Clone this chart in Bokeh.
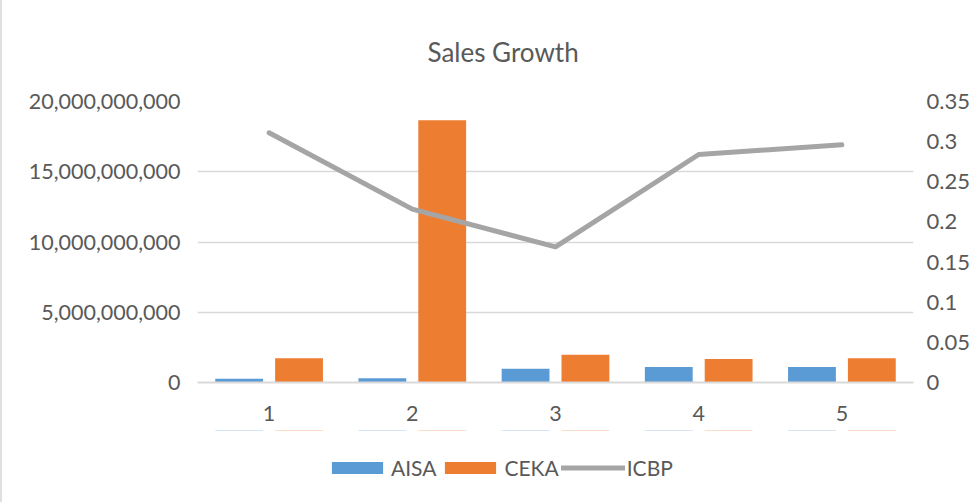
from bokeh.plotting import figure
from bokeh.layouts import column
from bokeh.models import (ColumnDataSource, FactorRange, Range1d, LinearAxis, FixedTicker,
                          NumeralTickFormatter, CustomJSTickFormatter, Legend, LegendItem)
from bokeh.transform import dodge
from bokeh.embed import file_html
from bokeh.resources import INLINE

periods = ["1", "2", "3", "4", "5"]
aisa = [0.27e9, 0.31e9, 0.97e9, 1.11e9, 1.11e9]
ceka = [1.73e9, 18.66e9, 1.97e9, 1.68e9, 1.73e9]
icbp = [0.311, 0.216, 0.169, 0.284, 0.296]
series_names = ["AISA", "CEKA", "ICBP"]
left_ticks = [0, 5e9, 10e9, 15e9, 20e9]
right_ticks = [0, 0.05, 0.1, 0.15, 0.2, 0.25, 0.3, 0.35]

FONT = "Lato"
TXT = "#595959"
BLUE = "#5B9BD5"
ORANGE = "#ED7D31"
GRAY = "#A5A5A5"
GRID = "#D9D9D9"
BORDER = {"border-left": "2px solid #E0E0E0"}

src = ColumnDataSource(dict(x=periods, aisa=aisa, ceka=ceka, icbp=icbp))
xr = FactorRange(factors=periods, range_padding=0)

p = figure(width=975, height=430, output_backend="svg", toolbar_location=None,
           x_range=xr, y_range=Range1d(0, 20e9),
           min_border_left=195, min_border_right=64, min_border_top=101, min_border_bottom=48)
p.extra_y_ranges = {"right": Range1d(0, 0.35)}
p.outline_line_color = None
p.background_fill_color = "white"
p.border_fill_color = "white"

p.title.text = "Sales Growth"
p.title.text_font = FONT
p.title.text_font_size = "26px"
p.title.text_font_style = "normal"
p.title.text_color = TXT
p.title.align = "left"
p.title.offset = 230
p.title.standoff = 67

bar_style_a = dict(width=0.334, fill_color=BLUE, line_color=None)
bar_style_c = dict(width=0.334, fill_color=ORANGE, line_color=None)
line_style = dict(line_color=GRAY, line_width=5, line_join="round", line_cap="round")

p.vbar(x=dodge("x", -0.209, range=xr), top="aisa", source=src, **bar_style_a)
p.vbar(x=dodge("x", 0.209, range=xr), top="ceka", source=src, **bar_style_c)
p.line(x="x", y="icbp", source=src, y_range_name="right", **line_style)

# left axis
ya = p.yaxis[0]
ya.ticker = FixedTicker(ticks=left_ticks)
ya.formatter = NumeralTickFormatter(format="0,0")
ya.axis_line_color = None
ya.major_tick_line_color = None
ya.minor_tick_line_color = None
ya.major_label_standoff = 11
ya.major_label_text_font = FONT
ya.major_label_text_font_size = "21.5px"
ya.major_label_text_color = TXT

# right axis
ra = LinearAxis(y_range_name="right", ticker=FixedTicker(ticks=right_ticks),
                formatter=CustomJSTickFormatter(code="return String(Math.round(tick*100)/100);"))
ra.axis_line_color = None
ra.major_tick_line_color = None
ra.minor_tick_line_color = None
ra.major_label_standoff = 7
ra.major_label_text_font = FONT
ra.major_label_text_font_size = "22px"
ra.major_label_text_color = TXT
p.add_layout(ra, "right")

# x axis
xa = p.xaxis[0]
xa.axis_line_color = GRID
xa.axis_line_width = 2
xa.major_tick_line_color = None
xa.minor_tick_line_color = None
xa.major_label_standoff = 17
xa.major_label_text_font = FONT
xa.major_label_text_font_size = "21.5px"
xa.major_label_text_color = TXT

p.xgrid.grid_line_color = None
p.ygrid.grid_line_color = GRID
p.ygrid.grid_line_width = 1.5
p.ygrid.ticker = FixedTicker(ticks=left_ticks)
p.styles = BORDER

# legend strip below the chart (own canvas, so the legend is not clipped by the main frame).
# Its series renderers draw nothing visible (zero-height bars, line outside the view).
lg = figure(width=975, height=72, output_backend="svg", toolbar_location=None,
            x_range=xr, y_range=Range1d(-4e11, -2e11),
            x_axis_type=None, y_axis_type=None, min_border=0)
lg.outline_line_color = None
lg.grid.visible = False
lg.extra_y_ranges = {"right": Range1d(-4, -2)}
l_aisa = lg.vbar(x=dodge("x", -0.209, range=xr), top="aisa", bottom="aisa", source=src, **bar_style_a)
l_ceka = lg.vbar(x=dodge("x", 0.209, range=xr), top="ceka", bottom="ceka", source=src, **bar_style_c)
l_icbp = lg.line(x="x", y="icbp", source=src, y_range_name="right", **line_style)

legend = Legend(items=[LegendItem(label=series_names[0], renderers=[l_aisa]),
                       LegendItem(label=series_names[1], renderers=[l_ceka]),
                       LegendItem(label=series_names[2], renderers=[l_icbp])],
                location=(128, 22), orientation="horizontal",
                glyph_width=64, glyph_height=15, label_standoff=2, spacing=2,
                padding=0, margin=0, border_line_color=None, background_fill_alpha=0,
                label_text_font=FONT, label_text_font_size="21px", label_text_color=TXT)
lg.add_layout(legend, "center")
lg.styles = BORDER

open("out.html", "w").write(file_html(column(p, lg, spacing=0), INLINE))
